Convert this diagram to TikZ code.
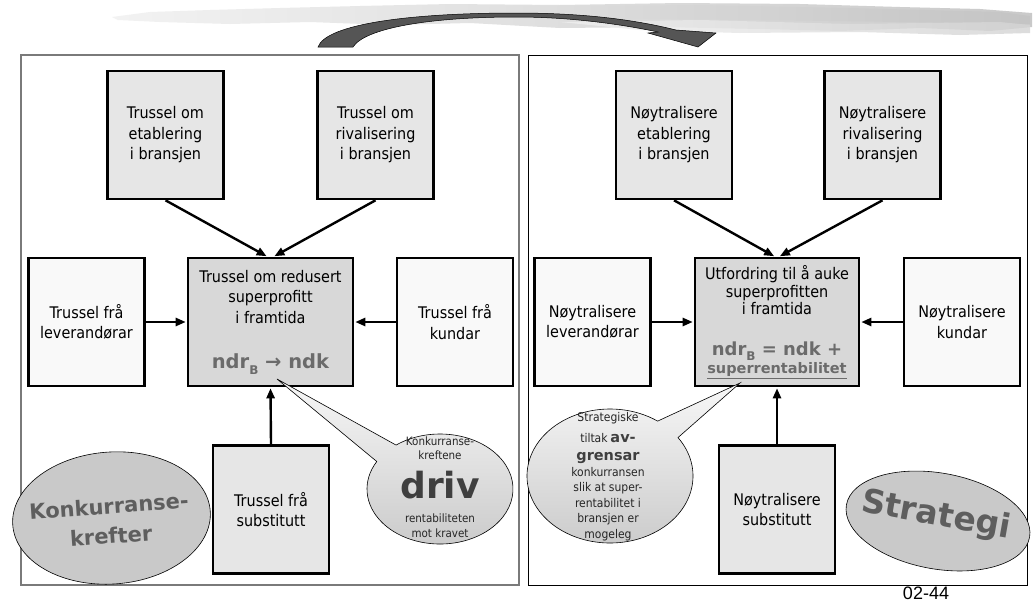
\documentclass[tikz,border=0pt]{standalone}
\usepackage{fontspec}
\setmainfont{DejaVu Sans}[FakeStretch=0.9]
\newfontfamily\heavyfont{DejaVu Sans}
\newfontfamily\pagenumfont{Liberation Sans}
\usetikzlibrary{arrows.meta,calc,shapes.geometric}

\definecolor{boxfill}{HTML}{E6E6E6}
\definecolor{sidefill}{HTML}{F9F9F9}
\definecolor{corefill}{HTML}{D8D8D8}
\definecolor{formulagray}{HTML}{6B6B6B}
\definecolor{bubbleink}{HTML}{3F3F3F}
\definecolor{ovalfill}{HTML}{C9C9C9}
\definecolor{ovalink}{HTML}{5E5E5E}
\definecolor{swoosh}{HTML}{555555}
\definecolor{panelgray}{HTML}{7A7A7A}

% ndr with a lowered bold B
\newcommand{\ndrB}{ndr\raisebox{-0.28em}{\fontsize{12}{12}\selectfont B}}

\tikzset{
  forcebox/.style={draw=black, line width=2.6pt, minimum width=116pt, minimum height=128pt,
    inner sep=0pt, align=center, font=\fontsize{16}{20.5}\selectfont},
  topbox/.style={forcebox, fill=boxfill},
  sidebox/.style={forcebox, fill=sidefill},
  corebox/.style={forcebox, fill=corefill, minimum width=165pt},
  flow/.style={line width=2.4pt, -{Triangle[length=10pt,width=8pt]}, shorten >=1pt},
  bubble/.style={draw=black, line width=0.6pt, top color=gray!6, bottom color=gray!42},
  oval/.style={draw=black, line width=0.6pt, fill=ovalfill, ellipse, inner sep=0pt},
  ovaltext/.style={font=\heavyfont\fontsize{21}{30}\selectfont\bfseries, text=ovalink, align=center},
  smalltext/.style={anchor=base, inner sep=0pt, text=black!85},
}

\begin{document}
\begin{tikzpicture}[x=1pt,y=-1pt]
\useasboundingbox (0,0) rectangle (1036,603);
\fill[white] (0,0) rectangle (1036,603);

% brush stroke along the top
\shade[left color=gray!10, right color=gray!42]
  (112,17) -- (150,12) -- (210,10) -- (280,8) -- (360,6) -- (450,4) -- (560,5) -- (680,3)
  -- (800,4) -- (900,7) -- (980,9) -- (1032,13) -- (1032,27) -- (990,31) -- (920,28)
  -- (840,31) -- (760,29) -- (660,27) -- (560,28) -- (470,23) -- (390,25) -- (310,22)
  -- (230,24) -- (160,22) -- (118,20) -- cycle;
\shade[left color=gray!20, right color=gray!48, opacity=0.7]
  (420,8) -- (560,6) -- (700,5) -- (850,8) -- (1000,12) -- (1030,16) -- (1030,24)
  -- (900,22) -- (760,20) -- (600,19) -- (450,17) -- cycle;
\shade[left color=gray!12, right color=gray!34, opacity=0.8]
  (560,22) -- (700,20) -- (850,24) -- (1000,22) -- (1030,25) -- (1030,33) -- (960,35)
  -- (860,32) -- (740,33) -- (640,30) -- cycle;

% the two panels
\draw[panelgray, line width=1.2pt] (21,55) rectangle (519,585);
\draw[panelgray, line width=2pt] (21,55) -- (519,55);
\draw[black, line width=0.8pt] (528,55) rectangle (1027,585);

% curved arrow from the left panel to the right panel
\filldraw[fill=swoosh, draw=black, line width=0.5pt]
  (318,47) .. controls (326,24) and (410,13) .. (516,13)
  .. controls (590,13) and (640,21) .. (676,30)
  -- (716,33) -- (698,47) -- (648,33) -- (658,32)
  .. controls (620,24) and (570,17) .. (516,17)
  .. controls (430,17) and (365,28) .. (353,47) -- cycle;

% ---------- left panel: competitive forces ----------
\node[topbox]  (tl)  at (165.5,135) {Trussel om\\etablering\\i bransjen};
\node[topbox]  (tr)  at (375.5,135) {Trussel om\\rivalisering\\i bransjen};
\node[sidebox] (lft) at (86.5,322)  {Trussel frå\\leverandørar};
\node[sidebox] (rgt) at (455,322)   {Trussel frå\\kundar};
\node[topbox]  (bot) at (271,509.5) {Trussel frå\\substitutt};
\node[corebox] (ctr) at (270.5,322)
  {Trussel om redusert\\superprofitt\\i framtida\\[25pt]
   {\heavyfont\fontsize{19.5}{22}\selectfont\bfseries\color{formulagray}\ndrB{} → ndk}};

\draw[flow] (tl.south) -- ($(ctr.north)+(-3,0)$);
\draw[flow] (tr.south) -- ($(ctr.north)+(3,0)$);
\draw[flow] (lft.east) -- (ctr.west);
\draw[flow] (rgt.west) -- (ctr.east);
\draw[flow] (bot.north) -- (ctr.south);

% callout on the left
\coordinate (bc1) at (440,489);
\coordinate (tip1) at (277,379);
\path[bubble] ($(bc1)+(127:73pt and 55pt)$)
  arc[start angle=127, end angle=-210, x radius=73pt, y radius=55pt] -- (tip1) -- cycle;
\node[smalltext, font=\fontsize{11.5}{12}\selectfont] (k1) at (440,445) {Konkurranse-};
\node[smalltext, font=\fontsize{11.5}{12}\selectfont] (k2) at (440,459) {kreftene};
\node[smalltext, font=\heavyfont\fontsize{36}{36}\selectfont\bfseries, text=bubbleink] (k3) at (440,498) {driv};
\node[smalltext, font=\fontsize{11.5}{12}\selectfont] (k4) at (440,522) {rentabiliteten};
\node[smalltext, font=\fontsize{11.5}{12}\selectfont] (k5) at (440,537) {mot kravet};

% oval label, left
\node[oval, minimum width=198pt, minimum height=132pt, rotate=4] (kk) at (111.5,518) {};
\node[ovaltext, rotate=4] (kktext) at (110,521) {Konkurranse-\\krefter};

% ---------- right panel: strategy ----------
\node[topbox]  (rtl)  at (674,135)   {Nøytralisere\\etablering\\i bransjen};
\node[topbox]  (rtr)  at (882.5,135) {Nøytralisere\\rivalisering\\i bransjen};
\node[sidebox] (rlft) at (592.5,322) {Nøytralisere\\leverandørar};
\node[sidebox] (rrgt) at (962,322)   {Nøytralisere\\kundar};
\node[topbox]  (rbot) at (777,509.5) {Nøytralisere\\substitutt};
\node[corebox, minimum width=164pt, font=\fontsize{16}{17.5}\selectfont] (rctr) at (777,322)
  {Utfordring til å auke\\superprofitten\\i framtida\\[23.5pt]
   {\heavyfont\fontsize{18}{18}\selectfont\bfseries\color{formulagray}\ndrB{} = ndk +}\\[0.5pt]
   {\heavyfont\fontsize{14.5}{17.5}\selectfont\bfseries\color{formulagray}\underline{superrentabilitet}}};

\draw[flow] (rtl.south) -- ($(rctr.north)+(-2,0)$);
\draw[flow] (rtr.south) -- ($(rctr.north)+(2,0)$);
\draw[flow] (rlft.east) -- (rctr.west);
\draw[flow] (rrgt.west) -- (rctr.east);
\draw[flow] (rbot.north) -- (rctr.south);

% callout on the right
\coordinate (bc2) at (610,476);
\coordinate (tip2) at (740,383);
\path[bubble] ($(bc2)+(35:83pt and 67pt)$)
  arc[start angle=35, end angle=-305, x radius=83pt, y radius=67pt] -- (tip2) -- cycle;
\node[smalltext, font=\fontsize{12}{12}\selectfont] (s1) at (608,421) {Strategiske};
\node[smalltext] (s2) at (608,442)
  {{\fontsize{12}{12}\selectfont tiltak} {\heavyfont\fontsize{14.5}{16}\selectfont\bfseries\color{bubbleink}av-}};
\node[smalltext, font=\heavyfont\fontsize{14.5}{16}\selectfont\bfseries, text=bubbleink] (s3) at (608,460) {grensar};
\node[smalltext, font=\fontsize{12}{12}\selectfont] (s4) at (608,476) {konkurransen};
\node[smalltext, font=\fontsize{12}{12}\selectfont] (s5) at (608,491) {slik at super-};
\node[smalltext, font=\fontsize{12}{12}\selectfont] (s6) at (608,507) {rentabilitet i};
\node[smalltext, font=\fontsize{12}{12}\selectfont] (s7) at (608,522) {bransjen er};
\node[smalltext, font=\fontsize{12}{12}\selectfont] (s8) at (608,538) {mogeleg};

% oval label, right
\node[oval, minimum width=186pt, minimum height=96pt, rotate=-10] (st) at (938,521) {};
\node[font=\heavyfont\fontsize{33}{33}\selectfont\bfseries, text=ovalink, rotate=-10] (sttext) at (936,516) {Strategi};

% slide number
\node[anchor=base, inner sep=0pt, font=\pagenumfont\fontsize{18}{18}\selectfont] (pg) at (926,599) {02-44};
\end{tikzpicture}
\end{document}
